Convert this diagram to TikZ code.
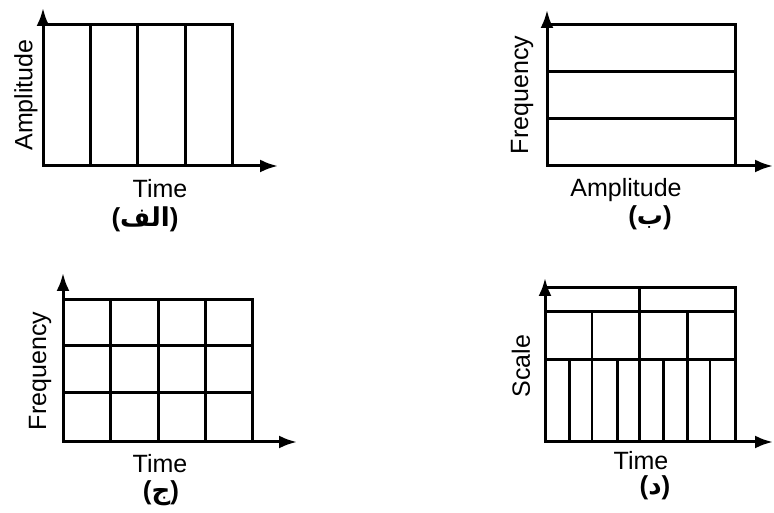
\documentclass[tikz,border=0pt]{standalone}
\usepackage{fontspec}
\setmainfont{Liberation Sans}
\newfontfamily\arabicfont[Script=Arabic]{DejaVu Sans}
\TeXXeTstate=1
\usetikzlibrary{arrows.meta}

\tikzset{
  axis/.style={line width=3pt,-{Latex[length=18pt,width=13pt]}},
  cell/.style={line width=3pt},
  thincell/.style={line width=1.8pt},
  lbl/.style={font=\fontsize{25}{28}\selectfont,inner sep=0pt},
  captext/.style={font=\fontsize{26}{30}\selectfont\bfseries,inner sep=0pt}
}

\begin{document}
\begin{tikzpicture}[x=1pt,y=1pt]
    \useasboundingbox (0,0) rectangle (774,513);
    % panel alef: time slices
    \begin{scope}[shift={(43,347)}]
        \draw[cell] (0,0) rectangle (189,141);
        \foreach \x in {47,94,142}
        \draw[cell] (\x,0) -- (\x,141);
        \draw[axis] (0,0) -- (0,158);
        \draw[axis] (0,0) -- (235,0);
        \node[lbl,rotate=90] (ampA) at (-17,71) {Amplitude};
        \node[lbl] (timeA) at (117,-23) {Time};
        \node[captext] (capA) at (102,-53) {({\arabicfont\beginR الف\endR})};
    \end{scope}
    % panel be: frequency bands
    \begin{scope}[shift={(547,347)}]
        \draw[cell] (0,0) rectangle (188,141);
        \foreach \y in {47,94}
        \draw[cell] (0,\y) -- (188,\y);
        \draw[axis] (0,0) -- (0,156);
        \draw[axis] (0,0) -- (226,0);
        \node[lbl,rotate=90] (freqB) at (-25,71) {Frequency};
        \node[lbl] (ampB) at (79,-24) {Amplitude};
        \node[captext] (capB) at (103,-52) {({\arabicfont\beginR ب\endR})};
    \end{scope}
    % panel jim: uniform grid
    \begin{scope}[shift={(63,71)}]
        \draw[cell] (0,0) rectangle (189,142);
        \foreach \x in {47,95,142}
        \draw[cell] (\x,0) -- (\x,142);
        \foreach \y in {49,96}
        \draw[cell] (0,\y) -- (189,\y);
        \draw[axis] (0,0) -- (0,169);
        \draw[axis] (0,0) -- (234,0);
        \node[lbl,rotate=90] (freqC) at (-23,71) {Frequency};
        \node[lbl] (timeC) at (97,-22) {Time};
        \node[captext] (capC) at (98,-51) {({\arabicfont\beginR ج\endR})};
    \end{scope}
    % panel dal: scale tiling
    \begin{scope}[shift={(545,71)}]
        \draw[cell] (0,0) rectangle (190,154);
        \foreach \y in {82,130}
        \draw[cell] (0,\y) -- (190,\y);
        \draw[cell] (94,130) -- (94,154);
        \foreach \x in {94,142}
        \draw[cell] (\x,82) -- (\x,130);
        \draw[thincell] (47,82) -- (47,130);
        \foreach \x in {24,72,94,118,142}
        \draw[cell] (\x,0) -- (\x,82);
        \foreach \x in {47,165}
        \draw[thincell] (\x,0) -- (\x,82);
        \draw[axis] (0,0) -- (0,164);
        \draw[axis] (0,0) -- (228,0);
        \node[lbl,rotate=90] (scaleD) at (-24,76) {Scale};
        \node[lbl] (timeD) at (96,-19) {Time};
        \node[captext] (capD) at (110,-46) {({\arabicfont\beginR د\endR})};
    \end{scope}
\end{tikzpicture}
\end{document}
